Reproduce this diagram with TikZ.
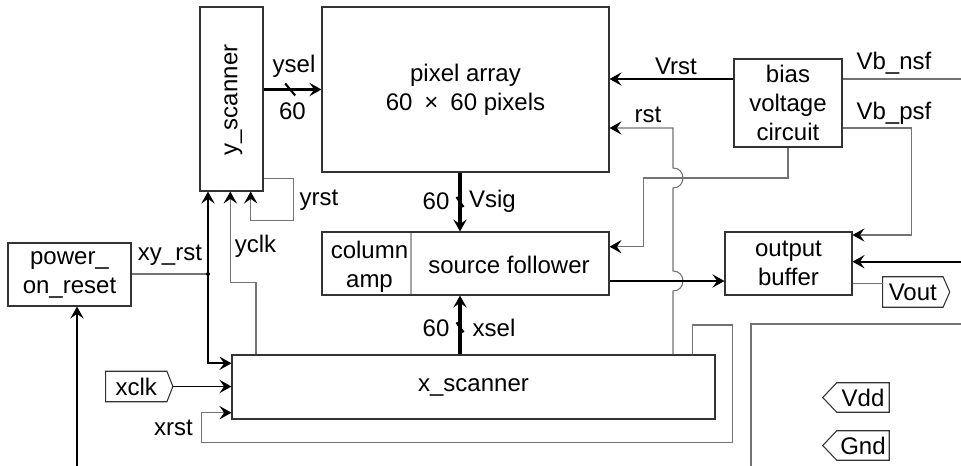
\documentclass[tikz,border=0pt]{standalone}
\usepackage{fontspec}
\setmainfont{Liberation Sans}
\usetikzlibrary{arrows.meta,calc}

\begin{document}
\begin{tikzpicture}[x=0.75pt,y=-0.75pt,
  font=\fontsize{18}{21.75}\selectfont,
  blk/.style={draw=black!80, line width=0.8pt, align=center, inner sep=0pt},
  wire/.style={draw=black!55, line width=0.8pt},
  sig/.style={draw=black, line width=1.3pt},
  bus/.style={draw=black, line width=2.4pt},
  busmark/.style={draw=black, line width=1.6pt},
  endarrow/.style={-{Stealth[length=9pt,width=10pt,inset=3.5pt,color=black]}},
  lbl/.style={inner sep=0pt},
  tagbox/.style={inner sep=0pt, minimum height=22.5pt},
  tagline/.style={draw=black!80, line width=0.8pt},
  divline/.style={draw=black!35, line width=0.8pt},
]
\useasboundingbox (0,0) rectangle (961,466);

% ---------- blocks ----------
\node[blk, minimum width=47.25pt, minimum height=138pt] (ys) at (231.5,99) {};
\node[lbl, rotate=90] (yslbl) at (233.3,100) {y\_scanner};

\node[blk, minimum width=215.25pt, minimum height=123.75pt] (pa) at (465.5,89.5)
  {pixel array\\60\enspace×\enspace60 pixels};

\node[blk, minimum width=81pt, minimum height=66pt] (bv) at (788,103)
  {bias\\voltage\\circuit};

\node[blk, minimum width=215.25pt, minimum height=47.25pt] (sf) at (465.5,263.5) {};
\coordinate (divx) at (411,0);
\draw[divline] ([yshift=-1.5pt]sf.north -| divx) -- ([yshift=1.5pt]sf.south -| divx);
\node[lbl, align=center] (ca) at (369.5,266.5) {column\\amp};
\node[lbl] (sfl) at (509,265) {source follower};

\node[blk, minimum width=95.25pt, minimum height=47.25pt] (ob) at (788.5,263.5)
  {output\\buffer};

\node[blk, minimum width=92.25pt, minimum height=47.25pt] (por) at (69.5,274.5)
  {power\_\\on\_reset};

\node[blk, minimum width=362.25pt, minimum height=48pt] (xs) at (473.5,387) {x\_scanner};

% ---------- pin tags ----------
\node[tagbox, minimum width=45.5pt] (xclk) at (136.3,386.5) {xclk};
\draw[tagline] (xclk.north west) -- (xclk.north east) -- ([xshift=4.5pt]xclk.east)
  -- (xclk.south east) -- (xclk.south west) -- cycle;

\node[tagbox, minimum width=45pt] (vout) at (912.8,292) {Vout};
\draw[tagline] (vout.north west) -- (vout.north east) -- ([xshift=5pt]vout.east)
  -- (vout.south east) -- (vout.south west) -- cycle;

\node[tagbox, minimum width=39pt, minimum height=21.75pt] (vdd) at (863,397.5) {Vdd};
\draw[tagline] (vdd.north east) -- (vdd.north west) -- ([xshift=-10.5pt]vdd.west)
  -- (vdd.south west) -- (vdd.south east) -- cycle;

\node[tagbox, minimum width=39pt, minimum height=21.75pt] (gnd) at (863,445.5) {Gnd};
\draw[tagline] (gnd.north east) -- (gnd.north west) -- ([xshift=-10.5pt]gnd.west)
  -- (gnd.south west) -- (gnd.south east) -- cycle;

% pad region outline
\coordinate (padA) at (751,466);
\coordinate (padB) at (751,324);
\coordinate (padC) at (961,324);
\draw[wire] (padA) -- (padB) -- (padC);

% ---------- routing coordinates ----------
\coordinate (redge) at (961,0);
\coordinate (busx) at (460,0);
\coordinate (vrsty) at (0,79);
\coordinate (rsty) at (0,128);
\coordinate (rstx) at (673,0);
\coordinate (psfx) at (911.7,0);
\coordinate (obtop) at (0,235);
\coordinate (jmpy) at (0,178);
\coordinate (fbx) at (643.3,0);
\coordinate (sfin) at (0,246.7);
\coordinate (viny) at (0,261.7);
\coordinate (outy) at (0,281);
\coordinate (vouty) at (0,283.3);
\coordinate (pin) at (77,466);
\coordinate (jxy) at (208,274);
\coordinate (xyin) at (0,363.3);
\coordinate (yclkx1) at (256,0);
\coordinate (yclkx2) at (230.3,0);
\coordinate (yclky) at (0,282.3);
\coordinate (yrsty1) at (0,178.7);
\coordinate (yrsty2) at (0,220.7);
\coordinate (yrstx1) at (293.7,0);
\coordinate (yrstx2) at (250.7,0);
\coordinate (xrx1) at (692.7,0);
\coordinate (xrx2) at (732.3,0);
\coordinate (xrx3) at (201.7,0);
\coordinate (xry1) at (0,325);
\coordinate (xry2) at (0,442.7);
\coordinate (xrin) at (0,412.7);

% ---------- buses ----------
\draw[bus,endarrow] (ys.east |- pa.west) -- coordinate[pos=0.46] (yselm) (pa.west);
\draw[busmark] ($(yselm)+(-5,-6)$) -- ($(yselm)+(5,6)$);
\node[lbl] (ysellbl) at (294,66.7) {ysel};
\node[lbl] (yselw) at (292.5,111.7) {60};

\draw[bus,endarrow] (pa.south -| busx) -- coordinate[pos=0.5] (vsigm) (sf.north -| busx);
\draw[busmark] ($(vsigm)+(-3.5,-5)$) -- ($(vsigm)+(3.5,5)$);
\node[lbl] (vsigw) at (436,201.7) {60};
\node[lbl] (vsiglbl) at (492.5,201.7) {Vsig};

\draw[bus,endarrow] (xs.north -| busx) -- coordinate[pos=0.46] (xselm) (sf.south -| busx);
\draw[busmark] ($(xselm)+(-3.5,-5)$) -- ($(xselm)+(3.5,5)$);
\node[lbl] (xselw) at (436,328) {60};
\node[lbl] (xsellbl) at (494,328) {xsel};

% ---------- bias lines ----------
\draw[sig,endarrow] (bv.west |- vrsty) -- (pa.east |- vrsty);
\node[lbl] (vrstlbl) at (676,66) {Vrst};

\draw[wire] (bv.east |- vrsty) -- (redge |- vrsty);
\node[lbl] (nsflbl) at (894,63.3) {Vb\_nsf};

\draw[wire,endarrow] (bv.east |- rsty) -- (psfx |- rsty) -- (psfx |- obtop) -- (ob.east |- obtop);
\node[lbl] (psflbl) at (894,113.3) {Vb\_psf};

\draw[wire,endarrow] (bv.south) -- (bv.south |- jmpy) -- (fbx |- jmpy) -- (fbx |- sfin) -- (sf.east |- sfin);

% rst line, hopping over the two crossings
\coordinate (hopA1) at (673,291);
\coordinate (hopA2) at (673,271);
\coordinate (hopB1) at (673,188);
\coordinate (hopB2) at (673,168);
\draw[wire,endarrow] (xs.north -| rstx) -- (hopA1)
  .. controls ($(hopA1)+(13.3,0)$) and ($(hopA2)+(13.3,0)$) .. (hopA2) -- (hopB1)
  .. controls ($(hopB1)+(13.3,0)$) and ($(hopB2)+(13.3,0)$) .. (hopB2)
  -- (rstx |- rsty) -- (pa.east |- rsty);
\node[lbl] (rstlbl) at (648,115) {rst};

% ---------- output path ----------
\draw[sig,endarrow] (sf.east |- outy) -- (ob.west |- outy);
\draw[sig,endarrow] (redge |- viny) -- (ob.east |- viny);
\draw[wire] (ob.east |- vouty) -- (vout.west |- vouty);

% ---------- reset / clocks ----------
\draw[sig,endarrow] (pin) -- (por.south -| pin);

\draw[wire] (por.east |- jxy) -- (jxy);
\fill (jxy) circle[radius=2];
\draw[sig,endarrow] (jxy) -- (ys.south -| jxy);
\draw[sig,endarrow] (jxy) -- (jxy |- xyin) -- (xs.west |- xyin);
\node[lbl] (xyrstlbl) at (170,255) {xy\_rst};

\draw[wire,endarrow] (xs.north -| yclkx1) -- (yclkx1 |- yclky) -- (yclkx2 |- yclky) -- (ys.south -| yclkx2);
\node[lbl] (yclklbl) at (255.5,246.7) {yclk};

\draw[wire,endarrow] (ys.east |- yrsty1) -- (yrstx1 |- yrsty1) -- (yrstx1 |- yrsty2)
  -- (yrstx2 |- yrsty2) -- (ys.south -| yrstx2);
\node[lbl] (yrstlbl) at (319,200) {yrst};

\draw[sig,endarrow] ([xshift=4.5pt]xclk.east) -- (xs.west |- xclk.east);

\draw[wire,endarrow] (xs.north -| xrx1) -- (xrx1 |- xry1) -- (xrx2 |- xry1) -- (xrx2 |- xry2)
  -- (xrx3 |- xry2) -- (xrx3 |- xrin) -- (xs.west |- xrin);
\node[lbl] (xrstlbl) at (173.4,428.3) {xrst};

\end{tikzpicture}
\end{document}
